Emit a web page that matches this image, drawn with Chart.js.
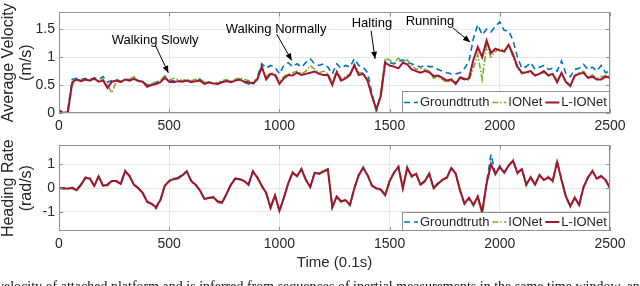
<!DOCTYPE html>
<html>
<head>
<meta charset="utf-8">
<script src="https://cdn.jsdelivr.net/npm/chart.js@4.4.1/dist/chart.umd.min.js"></script>
<style>
html,body{margin:0;padding:0;background:#fff;overflow:hidden}
#wrap{position:relative;width:640px;height:286px;overflow:hidden;background:#fff}
#cTop{position:absolute;left:0;top:0}
#cBot{position:absolute;left:0;top:133px}
#cap{position:absolute;left:-3px;top:279px;white-space:nowrap;font:14px 'Liberation Serif',serif;line-height:16px;color:#111}
</style>
</head>
<body>
<div id="wrap">
  <canvas id="cTop" width="640" height="133"></canvas>
  <canvas id="cBot" width="640" height="153"></canvas>
  <div id="cap">velocity of attached platform and is inferred from sequences of inertial measurements in the same time window, and</div>
</div>
<script>
// sample times (0.1 s)
const T = [
  0,20,40,60,80,100,120,140,160,180,
  200,220,240,260,280,300,320,340,360,380,
  400,420,440,460,480,500,520,540,560,580,
  600,620,640,660,680,700,720,740,760,780,
  800,820,840,860,880,900,920,940,960,980,
  1000,1020,1040,1060,1080,1100,1120,1140,1160,1180,
  1200,1220,1240,1260,1280,1300,1320,1340,1360,1380,
  1400,1420,1440,1460,1480,1500,1520,1540,1560,1580,
  1600,1620,1640,1660,1680,1700,1720,1740,1760,1780,
  1800,1820,1840,1860,1880,1900,1920,1940,1960,1980,
  2000,2020,2040,2060,2080,2100,2120,2140,2160,2180,
  2200,2220,2240,2260,2280,2300,2320,2340,2360,2380,
  2400,2420,2440,2460,2480,2500
];

const LABELS = ['Groundtruth','IONet','L-IONet'];

// average velocity (m/s)
const velGT = [
  0.03,0.0,0.05,0.6,0.62,0.6,0.62,0.6,0.63,0.6,
  0.65,0.55,0.58,0.6,0.57,0.6,0.6,0.62,0.58,0.57,
  0.5,0.52,0.55,0.58,0.66,0.6,0.57,0.58,0.57,0.6,
  0.56,0.58,0.6,0.53,0.55,0.52,0.53,0.56,0.58,0.56,
  0.6,0.6,0.55,0.52,0.5,0.65,0.88,0.8,0.85,0.82,
  0.7,0.85,0.9,0.83,0.88,0.82,0.9,0.97,0.88,0.85,
  0.88,0.82,0.7,0.88,0.8,0.85,0.82,0.97,0.85,0.82,
  0.72,0.35,0.05,0.35,0.93,0.9,0.88,0.92,0.95,0.9,
  0.88,0.85,0.82,0.85,0.83,0.83,0.78,0.75,0.72,0.7,
  0.7,0.72,0.8,0.92,1.33,1.58,1.4,1.5,1.45,1.55,
  1.63,1.48,1.47,1.3,1.0,0.8,0.83,0.9,0.78,0.82,
  0.85,0.78,0.8,0.75,0.93,0.7,0.65,0.78,0.8,0.87,
  0.78,0.82,0.75,0.85,0.72,0.75
];
const velIO = [
  0.02,0.0,0.0,0.5,0.6,0.58,0.6,0.6,0.6,0.58,
  0.6,0.5,0.36,0.58,0.57,0.6,0.6,0.65,0.58,0.56,
  0.5,0.52,0.55,0.58,0.65,0.58,0.62,0.6,0.58,0.6,
  0.58,0.6,0.62,0.55,0.56,0.52,0.55,0.58,0.6,0.57,
  0.6,0.63,0.6,0.58,0.55,0.62,0.8,0.65,0.72,0.7,
  0.58,0.65,0.7,0.72,0.75,0.7,0.75,0.85,0.78,0.72,
  0.75,0.7,0.55,0.75,0.62,0.65,0.7,0.88,0.72,0.72,
  0.6,0.32,0.02,0.35,0.98,0.95,0.9,0.98,0.92,0.95,
  0.85,0.78,0.8,0.78,0.75,0.62,0.65,0.6,0.55,0.58,
  0.55,0.65,0.62,0.58,0.8,1.05,0.6,1.2,1.0,1.1,
  1.15,1.12,1.2,1.0,0.8,0.7,0.72,0.72,0.68,0.7,
  0.72,0.7,0.68,0.6,0.7,0.58,0.5,0.65,0.72,0.75,
  0.65,0.68,0.62,0.65,0.67,0.65
];
const velLIO = [
  0.05,0.0,0.02,0.55,0.6,0.57,0.6,0.58,0.62,0.56,
  0.58,0.45,0.56,0.58,0.55,0.6,0.58,0.61,0.57,0.56,
  0.47,0.5,0.52,0.55,0.63,0.56,0.55,0.57,0.56,0.58,
  0.55,0.57,0.58,0.52,0.55,0.53,0.52,0.55,0.57,0.55,
  0.58,0.6,0.56,0.55,0.53,0.6,0.83,0.6,0.7,0.68,
  0.52,0.62,0.68,0.67,0.72,0.68,0.7,0.72,0.74,0.7,
  0.68,0.68,0.5,0.73,0.58,0.62,0.68,0.85,0.68,0.7,
  0.58,0.3,0.07,0.3,0.9,0.85,0.83,0.8,0.9,0.87,
  0.78,0.75,0.72,0.75,0.73,0.66,0.67,0.63,0.58,0.6,
  0.52,0.63,0.6,0.62,0.95,1.18,1.0,1.3,1.07,1.15,
  1.12,1.1,1.22,1.05,0.83,0.72,0.73,0.75,0.67,0.7,
  0.75,0.67,0.7,0.55,0.72,0.55,0.48,0.67,0.7,0.72,
  0.63,0.65,0.6,0.6,0.65,0.63
];

// heading rate (rad/s)
const hrGT = [
  0.0,0.02,-0.03,0.03,-0.06,0.18,0.46,0.38,0.12,0.52,
  0.08,0.16,0.32,0.28,0.2,0.74,0.5,0.16,-0.02,-0.22,
  -0.6,-0.66,-0.86,-0.52,0.12,0.32,0.4,0.45,0.58,0.72,
  0.32,0.14,-0.12,-0.46,-0.42,-0.4,-0.58,-0.62,-0.24,0.16,
  0.42,0.4,0.3,0.16,0.74,0.46,0.08,-0.22,-0.84,-0.28,
  -0.98,-0.42,0.22,0.66,0.52,0.82,0.36,0.04,0.66,0.62,
  0.72,0.82,-0.82,-0.34,-0.56,-0.52,-0.72,0.02,0.56,0.88,
  0.56,0.12,0.02,-0.06,-0.3,0.32,0.66,0.92,0.02,0.86,
  0.52,0.62,0.16,0.32,0.62,0.02,0.22,0.36,0.46,0.86,
  0.62,-0.12,-0.66,-0.42,-0.72,-0.36,-1.02,0.22,1.42,0.62,
  0.94,0.66,0.96,1.18,0.66,0.82,0.16,0.46,0.16,0.56,
  0.36,0.46,0.32,1.16,0.36,-0.34,-0.76,-0.42,-0.72,0.06,
  0.46,0.74,0.42,0.52,0.36,0.0
];
const hrIO = [
  0.0,-0.04,0.0,-0.02,-0.1,0.12,0.42,0.42,0.08,0.48,
  0.12,0.1,0.28,0.32,0.16,0.7,0.56,0.12,0.02,-0.18,
  -0.55,-0.7,-0.78,-0.48,0.08,0.34,0.42,0.4,0.52,0.74,
  0.28,0.12,-0.08,-0.5,-0.44,-0.36,-0.6,-0.64,-0.22,0.12,
  0.44,0.36,0.32,0.12,0.72,0.42,0.12,-0.18,-0.8,-0.32,
  -0.92,-0.44,0.18,0.7,0.48,0.84,0.32,0.08,0.62,0.64,
  0.74,0.8,-0.78,-0.38,-0.6,-0.48,-0.74,-0.04,0.58,0.9,
  0.52,0.14,-0.04,-0.1,-0.32,0.26,0.7,0.88,-0.04,0.9,
  0.46,0.66,0.12,0.26,0.64,-0.04,0.16,0.4,0.42,0.82,
  0.64,-0.16,-0.7,-0.44,-0.76,-0.4,-1.16,0.16,1.05,0.56,
  0.86,0.7,0.92,1.2,0.6,0.84,0.1,0.48,0.12,0.58,
  0.32,0.5,0.26,1.14,0.3,-0.4,-0.8,-0.36,-0.74,0.02,
  0.42,0.76,0.36,0.54,0.3,-0.02
];
const hrLIO = [
  0.0,0.0,-0.02,0.02,-0.08,0.15,0.44,0.4,0.1,0.5,
  0.1,0.15,0.3,0.3,0.18,0.72,0.5,0.15,0.0,-0.2,
  -0.57,-0.65,-0.8,-0.5,0.1,0.3,0.38,0.42,0.55,0.7,
  0.3,0.15,-0.1,-0.45,-0.4,-0.38,-0.55,-0.6,-0.25,0.15,
  0.4,0.38,0.3,0.15,0.7,0.45,0.1,-0.2,-0.82,-0.3,
  -0.95,-0.4,0.2,0.65,0.5,0.8,0.35,0.05,0.65,0.6,
  0.7,0.78,-0.8,-0.35,-0.55,-0.5,-0.7,0.0,0.55,0.85,
  0.55,0.1,0.0,-0.05,-0.28,0.3,0.65,0.9,0.0,0.85,
  0.5,0.6,0.15,0.3,0.6,0.0,0.2,0.35,0.45,0.85,
  0.6,-0.1,-0.65,-0.4,-0.7,-0.35,-1.0,0.2,1.0,0.6,
  0.9,0.65,0.95,1.15,0.65,0.8,0.15,0.45,0.15,0.55,
  0.35,0.45,0.3,1.1,0.35,-0.35,-0.75,-0.4,-0.7,0.05,
  0.45,0.72,0.4,0.5,0.35,0.0
];

const X_TICKS = [0,500,1000,1500,2000,2500];
const VEL_TICKS = [0,0.5,1,1.5];
const HR_TICKS = [-1,0,1];

// annotations on the velocity panel, in data units
const NOTE_TEXT = ['Walking Slowly','Walking Normally','Halting','Running'];
const NOTE_AT = [[436,1.3],[985,1.5],[1420,1.6],[1683,1.63]];
const ARROW_FROM = [[436,1.22],[988,1.41],[1416,1.47],[1788,1.52]];
const ARROW_TO = [[496,0.72],[1056,0.94],[1434,0.97],[1865,1.27]];

const FONT = "'Liberation Sans', Arial, sans-serif";
const INK = '#262626';
const GRID = '#e6e6e6';
const BOX = '#8f8f8f';
const CLR = ['#0072BD','#77AC30','#A2142F'];
const DASH = [[6,4],[6,2,1.5,2],[]];
const LW = [1.6,1.6,2];

function mkSets(vals){
  return vals.map((v,i)=>({
    label:LABELS[i],
    data:v.map((y,j)=>({x:T[j],y})),
    borderColor:CLR[i],borderDash:DASH[i],borderWidth:LW[i],
    pointRadius:0,tension:0,fill:false,order:3-i
  }));
}

function mkScales(yMin,yMax,yTicks,yTitle,xTitle,xH){
  return {
    x:{type:'linear',min:0,max:2500,
      afterBuildTicks:s=>{s.ticks=X_TICKS.map(v=>({value:v}));},
      afterFit:s=>{s.height=xH;},
      grid:{color:GRID,drawTicks:false,lineWidth:1},
      border:{display:false},
      ticks:{padding:5,color:INK,maxRotation:0,autoSkip:false,font:{size:14,family:FONT},callback:v=>String(v)},
      title:{display:!!xTitle,text:xTitle||'',color:INK,padding:0,font:{size:15,family:FONT,lineHeight:1.2}}
    },
    y:{min:yMin,max:yMax,
      afterBuildTicks:s=>{s.ticks=yTicks.map(v=>({value:v}));},
      afterFit:s=>{s.width=59;},
      grid:{color:GRID,drawTicks:false,lineWidth:1},
      border:{display:false},
      ticks:{padding:4,color:INK,font:{size:14,family:FONT},callback:v=>String(v)},
      title:{display:true,text:yTitle,color:INK,padding:0,font:{size:16,family:FONT,lineHeight:1.125}}
    }
  };
}

// box, inward ticks
const frame = {id:'frame',afterDatasetsDraw(c){
  const ctx=c.ctx,a=c.chartArea,sx=c.scales.x,sy=c.scales.y;
  ctx.save();
  ctx.strokeStyle=BOX;ctx.lineWidth=1;
  ctx.strokeRect(Math.round(a.left)+0.5,Math.round(a.top)+0.5,Math.round(a.right-a.left)-1,Math.round(a.bottom-a.top)-1);
  ctx.beginPath();
  sx.ticks.forEach(t=>{
    const x=Math.round(sx.getPixelForValue(t.value))+0.5;
    ctx.moveTo(x,a.bottom);ctx.lineTo(x,a.bottom-4);
    ctx.moveTo(x,a.top);ctx.lineTo(x,a.top+4);
  });
  sy.ticks.forEach(t=>{
    const y=Math.round(sy.getPixelForValue(t.value))+0.5;
    ctx.moveTo(a.left,y);ctx.lineTo(a.left+4,y);
    ctx.moveTo(a.right,y);ctx.lineTo(a.right-4,y);
  });
  ctx.stroke();
  ctx.restore();
}};

function legendBox(h){
  return {id:'lgbox',afterDraw(c){
    const ctx=c.ctx,a=c.chartArea,sets=c.data.datasets;
    ctx.save();
    ctx.font='13px '+FONT;
    const sw=14,gap=2,pad=2,after=3;
    let w=pad;
    sets.forEach(d=>{w+=sw+gap+ctx.measureText(d.label).width+after;});
    w=Math.round(w);
    const x0=Math.round(a.right-w),y0=Math.round(a.bottom-h);
    ctx.fillStyle='#fff';ctx.fillRect(x0,y0,w,h);
    ctx.strokeStyle=BOX;ctx.lineWidth=1;ctx.strokeRect(x0+0.5,y0+0.5,w-1,h-1);
    let x=x0+pad;const yc=y0+h/2+0.5;
    sets.forEach(d=>{
      ctx.strokeStyle=d.borderColor;ctx.lineWidth=d.borderWidth;ctx.setLineDash(d.borderDash);
      ctx.beginPath();ctx.moveTo(x,yc);ctx.lineTo(x+sw,yc);ctx.stroke();
      ctx.setLineDash([]);
      x+=sw+gap;
      ctx.fillStyle=INK;ctx.textBaseline='middle';ctx.textAlign='left';
      ctx.fillText(d.label,x,yc);
      x+=ctx.measureText(d.label).width+after;
    });
    ctx.restore();
  }};
}

function arrow(ctx,x1,y1,x2,y2){
  ctx.beginPath();ctx.moveTo(x1,y1);ctx.lineTo(x2,y2);ctx.stroke();
  const g=Math.atan2(y2-y1,x2-x1),L=7,W=3;
  ctx.beginPath();ctx.moveTo(x2,y2);
  ctx.lineTo(x2-L*Math.cos(g)+W*Math.sin(g),y2-L*Math.sin(g)-W*Math.cos(g));
  ctx.lineTo(x2-L*Math.cos(g)-W*Math.sin(g),y2-L*Math.sin(g)+W*Math.cos(g));
  ctx.closePath();ctx.fill();
}

const notes = {id:'notes',afterDraw(c){
  const ctx=c.ctx,sx=c.scales.x,sy=c.scales.y;
  ctx.save();
  ctx.fillStyle='#000';ctx.strokeStyle='#000';ctx.lineWidth=1;
  ctx.font='13px '+FONT;ctx.textAlign='center';ctx.textBaseline='middle';
  NOTE_TEXT.forEach((txt,i)=>{
    ctx.fillText(txt,sx.getPixelForValue(NOTE_AT[i][0]),sy.getPixelForValue(NOTE_AT[i][1]));
    arrow(ctx,sx.getPixelForValue(ARROW_FROM[i][0]),sy.getPixelForValue(ARROW_FROM[i][1]),
      sx.getPixelForValue(ARROW_TO[i][0]),sy.getPixelForValue(ARROW_TO[i][1]));
  });
  ctx.restore();
}};

const base = {responsive:false,animation:false,devicePixelRatio:1,
  plugins:{legend:{display:false},tooltip:{enabled:false}}};

new Chart(document.getElementById('cTop'),{
  type:'line',
  data:{datasets:mkSets([velGT,velIO,velLIO])},
  options:{...base,layout:{padding:{left:0,right:30,top:5,bottom:0}},
    scales:mkScales(0,1.8,VEL_TICKS,['Average Velocity','(m/s)'],null,20)},
  plugins:[frame,legendBox(22),notes]
});

new Chart(document.getElementById('cBot'),{
  type:'line',
  data:{datasets:mkSets([hrGT,hrIO,hrLIO])},
  options:{...base,layout:{padding:{left:0,right:30,top:3,bottom:14}},
    scales:mkScales(-1.8,1.8,HR_TICKS,['Heading Rate','(rad/s)'],'Time (0.1s)',41)},
  plugins:[frame,legendBox(19)]
});
</script>
</body>
</html>
